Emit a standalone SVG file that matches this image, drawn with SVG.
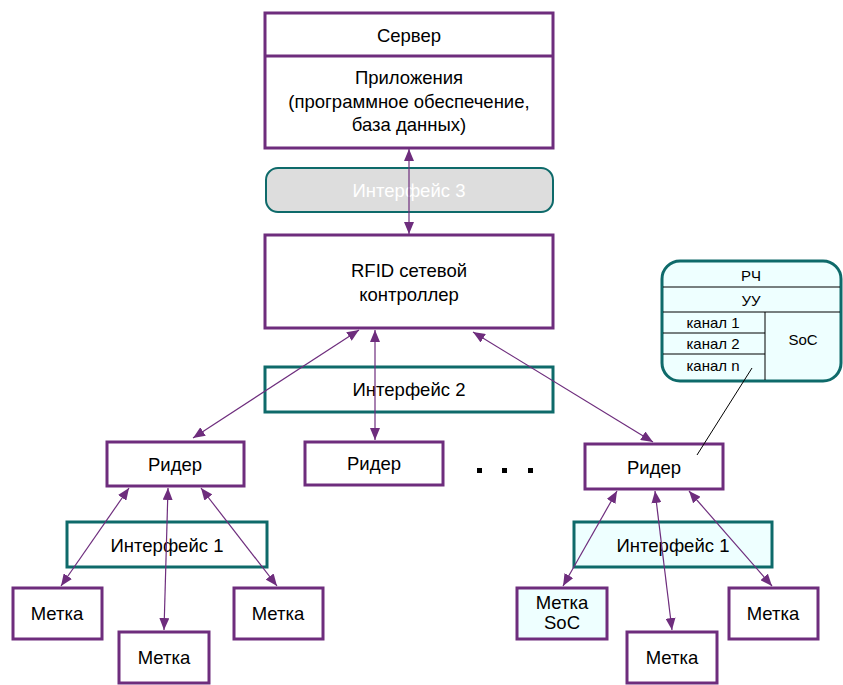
<svg xmlns="http://www.w3.org/2000/svg" width="843" height="685" viewBox="0 0 843 685">
<style>
.box{fill:#fff;stroke:#6E2D7D;stroke-width:3}
.ifc{fill:#fff;stroke:#0E6A6A;stroke-width:3}
.t{font-family:"Liberation Sans",Arial,sans-serif;font-size:18.5px;fill:#000;text-anchor:middle}
.s{font-family:"Liberation Sans",Arial,sans-serif;font-size:15px;fill:#000;text-anchor:middle}
.c{stroke:#6E2D7D;stroke-width:1.2;fill:none;marker-start:url(#ah);marker-end:url(#ah)}
.cl{stroke:#000;stroke-width:1;fill:none}
</style>
<defs>
<marker id="ah" viewBox="0 0 12 10" refX="12" refY="5" markerWidth="12" markerHeight="10" markerUnits="userSpaceOnUse" orient="auto-start-reverse">
<path d="M0,0 L12,5 L0,10 z" fill="#6E2D7D"/>
</marker>
</defs>
<rect width="843" height="685" fill="#fff"/>

<g id="server">
<rect class="box" x="265" y="13" width="288" height="135"/>
<line x1="265" y1="56" x2="553" y2="56" stroke="#6E2D7D" stroke-width="3"/>
<text class="t" x="409" y="42">Сервер</text>
<text class="t" x="409" y="84">Приложения</text>
<text class="t" x="409" y="108">(программное обеспечение,</text>
<text class="t" x="409" y="131">база данных)</text>
</g>

<g id="interface3">
<rect x="266" y="168" width="287" height="44" rx="12" fill="#DDDDDD" stroke="#0E6A6A" stroke-width="2"/>
<text class="t" x="409" y="197" style="fill:#fff">Интерфейс 3</text>
</g>

<g id="controller">
<rect class="box" x="265" y="235" width="288" height="93"/>
<text class="t" x="409" y="277">RFID сетевой</text>
<text class="t" x="409" y="301">контроллер</text>
</g>

<g id="interface2">
<rect class="ifc" x="265" y="367" width="288" height="45"/>
<text class="t" x="409" y="396">Интерфейс 2</text>
</g>

<g id="reader1">
<rect class="box" x="107" y="442" width="137" height="44"/>
<text class="t" x="175" y="471">Ридер</text>
</g>
<g id="reader2">
<rect class="box" x="305" y="442" width="138" height="43"/>
<text class="t" x="374" y="470">Ридер</text>
</g>
<g id="reader3">
<rect class="box" x="585" y="444" width="138" height="45"/>
<text class="t" x="654" y="474">Ридер</text>
</g>

<g id="dots">
<rect x="477" y="468" width="5" height="5" fill="#000"/>
<rect x="502" y="468" width="5" height="5" fill="#000"/>
<rect x="528" y="468" width="5" height="5" fill="#000"/>
</g>

<g id="interface1-left">
<rect class="ifc" x="67" y="522" width="200" height="45"/>
<text class="t" x="167" y="552">Интерфейс 1</text>
</g>
<g id="interface1-right">
<rect class="ifc" x="574" y="522" width="198" height="45" style="fill:#EEFFFF"/>
<text class="t" x="673" y="552">Интерфейс 1</text>
</g>

<g id="tag1">
<rect class="box" x="13" y="588" width="89" height="51"/>
<text class="t" x="57" y="620">Метка</text>
</g>
<g id="tag2">
<rect class="box" x="119" y="632" width="90" height="51"/>
<text class="t" x="164" y="664">Метка</text>
</g>
<g id="tag3">
<rect class="box" x="234" y="588" width="89" height="51"/>
<text class="t" x="278" y="620">Метка</text>
</g>
<g id="tag-soc">
<rect class="box" x="517" y="588" width="90" height="51" style="fill:#EEFFFF"/>
<text class="t" x="562" y="609">Метка</text>
<text class="t" x="562" y="629">SoC</text>
</g>
<g id="tag5">
<rect class="box" x="627" y="632" width="90" height="51"/>
<text class="t" x="672" y="664">Метка</text>
</g>
<g id="tag6">
<rect class="box" x="729" y="588" width="89" height="51"/>
<text class="t" x="773" y="620">Метка</text>
</g>

<g id="soc-callout">
<rect x="662" y="261" width="179" height="120" rx="18" fill="#EEFFFF" stroke="#0E6A6A" stroke-width="3"/>
<line x1="663" y1="287" x2="840" y2="287" stroke="#000" stroke-width="1"/>
<line x1="663" y1="312" x2="840" y2="312" stroke="#000" stroke-width="1"/>
<line x1="663" y1="333" x2="765" y2="333" stroke="#000" stroke-width="1"/>
<line x1="663" y1="354" x2="765" y2="354" stroke="#000" stroke-width="1"/>
<line x1="765" y1="312" x2="765" y2="380" stroke="#000" stroke-width="1"/>
<text class="s" x="751" y="281">РЧ</text>
<text class="s" x="751" y="306">УУ</text>
<text class="s" x="713" y="328">канал 1</text>
<text class="s" x="713" y="349">канал 2</text>
<text class="s" x="713" y="371">канал n</text>
<text class="s" x="803" y="345">SoC</text>
</g>

<g id="connectors">
<line class="c" x1="409" y1="149" x2="409" y2="234"/>
<line class="c" x1="359" y1="330" x2="193" y2="438"/>
<line class="c" x1="375" y1="330" x2="375" y2="440"/>
<line class="c" x1="473" y1="332" x2="653" y2="442"/>
<line class="c" x1="129" y1="488" x2="61" y2="586"/>
<line class="c" x1="168" y1="488" x2="164" y2="630"/>
<line class="c" x1="201" y1="488" x2="277" y2="586"/>
<line class="c" x1="617" y1="491" x2="563" y2="586"/>
<line class="c" x1="655" y1="491" x2="672" y2="630"/>
<line class="c" x1="689" y1="491" x2="772" y2="586"/>
<line class="cl" x1="752" y1="368" x2="697" y2="455"/>
</g>
</svg>
